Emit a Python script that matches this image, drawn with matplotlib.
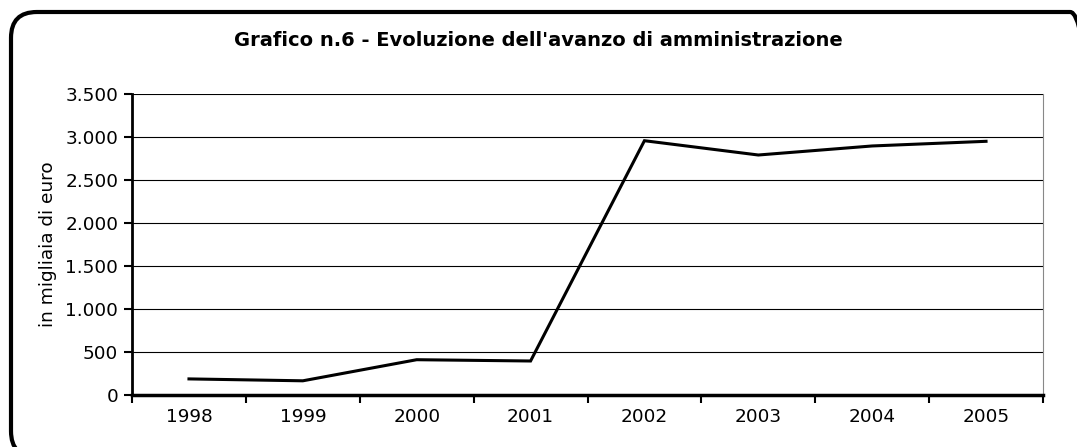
import matplotlib.pyplot as plt
from matplotlib.patches import FancyBboxPatch
from matplotlib.ticker import FuncFormatter
import numpy as np

anni = ["1998", "1999", "2000", "2001", "2002", "2003", "2004", "2005"]
avanzo = [187, 165, 410, 395, 2953, 2787, 2892, 2946]
y_ticks = [0, 500, 1000, 1500, 2000, 2500, 3000, 3500]

plt.rcParams['font.family'] = ['DejaVu Sans']

fig = plt.figure(figsize=(10.77, 4.47), dpi=100)
ax = fig.add_axes([0.1226, 0.1163, 0.8458, 0.6743])

x = np.arange(len(anni))
ax.plot(x, avanzo, color='black', lw=2.2, solid_joinstyle='miter')

ax.set_xlim(-0.5, len(anni) - 0.5)
ax.set_ylim(0, 3500)
ax.set_yticks(y_ticks)
ax.yaxis.set_major_formatter(FuncFormatter(lambda v, p: f"{int(v):,}".replace(",", ".")))
ax.set_xticks(x)
ax.set_xticklabels(anni)
ax.set_xticks(np.arange(-0.5, len(anni)), minor=True)
ax.tick_params(axis='x', which='major', length=0, labelsize=13.3, pad=9)
ax.tick_params(axis='x', which='minor', length=6, width=1.5, direction='out')
ax.tick_params(axis='y', length=6, width=1.5, labelsize=13.3, pad=4)

ax.grid(axis='y', color='black', lw=0.8)
ax.set_axisbelow(True)
ax.spines['left'].set_linewidth(2)
ax.spines['bottom'].set_linewidth(2.5)
ax.spines['top'].set_visible(False)
ax.spines['right'].set_color('#888888')
ax.spines['right'].set_linewidth(0.8)

ax.set_ylabel("in migliaia di euro", fontsize=13.3, labelpad=6)

fig.text(0.5, 0.91, "Grafico n.6 - Evoluzione dell'avanzo di amministrazione",
         ha='center', va='center', fontsize=14, fontweight='bold')

# cornice arrotondata, tagliata a destra e in basso come nella scansione
box = FancyBboxPatch((11 / 1077, -10 / 447), 1085 / 1077, 445 / 447,
                     boxstyle="round,pad=0,rounding_size=0.024",
                     transform=fig.transFigure, fill=False, ec='black', lw=3,
                     mutation_aspect=1077 / 447)
fig.patches.append(box)

fig.savefig("out.png", dpi=100)
